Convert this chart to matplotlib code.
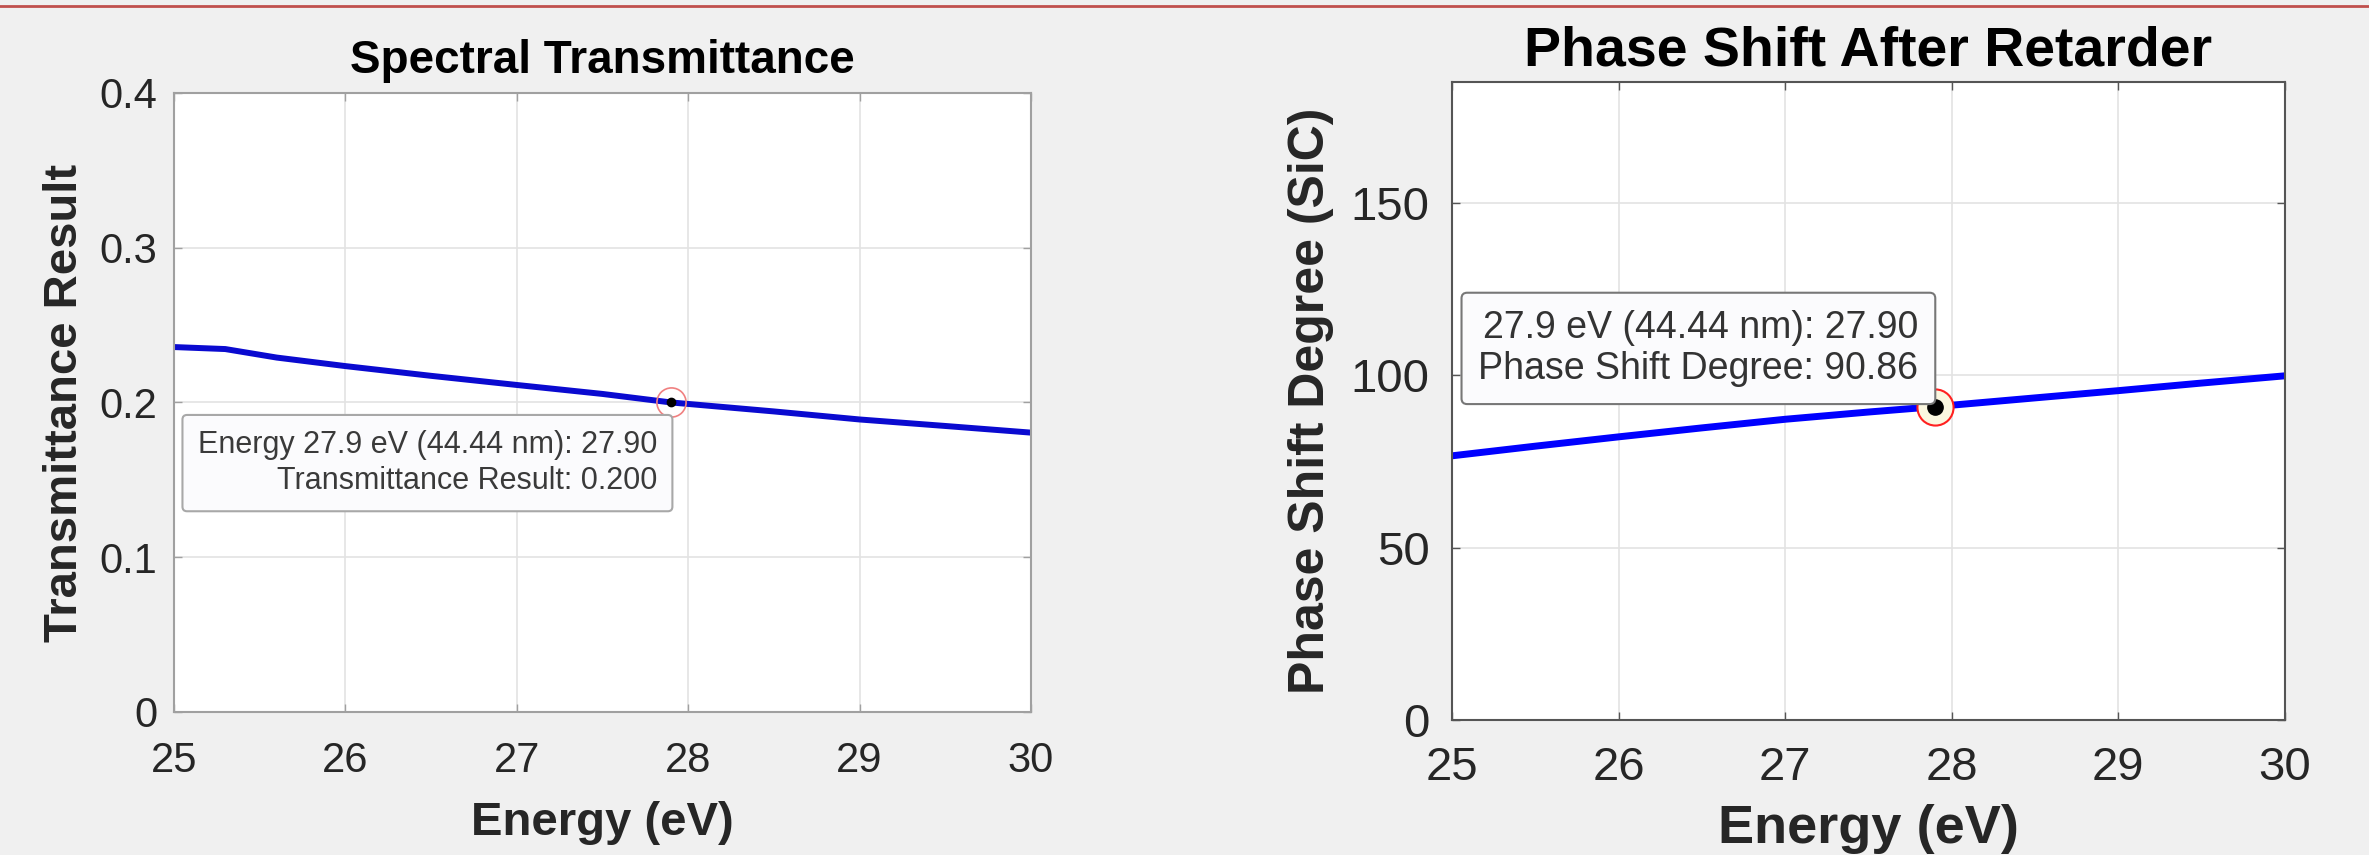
import matplotlib.pyplot as plt
from matplotlib.lines import Line2D

plt.rcParams['font.family'] = ['Liberation Sans', 'DejaVu Sans']

# left panel data
trans_energy = [25, 25.3, 25.6, 26, 26.5, 27, 27.5, 27.9, 28.5, 29, 29.5, 30]
trans_result = [0.2358, 0.2345, 0.229, 0.2235, 0.2172, 0.2113, 0.2055, 0.200, 0.1942, 0.189, 0.1848, 0.1805]
trans_tip = (27.9, 0.200)
trans_tip_text = 'Energy 27.9 eV (44.44 nm): 27.90\nTransmittance Result: 0.200'

# right panel data
phase_energy = [25, 25.5, 26, 26.5, 27, 27.5, 27.9, 28.5, 29, 29.5, 30]
phase_deg = [76.6, 79.4, 82.1, 84.7, 87.2, 89.3, 90.86, 93.4, 95.5, 97.7, 99.8]
phase_tip = (27.9, 90.86)
phase_tip_text = '27.9 eV (44.44 nm): 27.90\nPhase Shift Degree: 90.86'

energy_ticks = [25, 26, 27, 28, 29, 30]

fig = plt.figure(figsize=(23.69, 8.55), dpi=100, facecolor='#f0f0f0')
fig.add_artist(Line2D([0, 1], [0.993, 0.993], transform=fig.transFigure, color='#c0504d', lw=2))

ax1 = fig.add_axes([0.0734, 0.1673, 0.3618, 0.724])
ax2 = fig.add_axes([0.6129, 0.1579, 0.3516, 0.7462])


def style(ax, tick_size, spine_col):
    ax.set_facecolor('white')
    ax.grid(True, color='#e3e3e3', lw=1.2)
    ax.set_axisbelow(True)
    for s in ax.spines.values():
        s.set_color(spine_col)
        s.set_linewidth(1.5)
    ax.tick_params(direction='in', top=True, right=True, length=6, width=1,
                   color=spine_col, labelsize=tick_size, labelcolor='#262626')


# spectral transmittance
ax1.plot(trans_energy, trans_result, color='#0a0ad0', lw=4.3, solid_capstyle='butt')
ax1.set_xlim(25, 30)
ax1.set_ylim(0, 0.4)
ax1.set_xticks(energy_ticks)
ax1.set_yticks([0, 0.1, 0.2, 0.3, 0.4])
ax1.set_yticklabels(['0', '0.1', '0.2', '0.3', '0.4'])
style(ax1, 30, '#a0a0a0')
ax1.tick_params(axis='x', pad=21)
ax1.tick_params(axis='y', pad=12)
ax1.set_title('Spectral Transmittance', fontsize=33, fontweight='bold', pad=14)
ax1.set_xlabel('Energy (eV)', fontsize=34, fontweight='bold', color='#262626', labelpad=14)
ax1.set_ylabel('Transmittance Result', fontsize=34, fontweight='bold', color='#262626', labelpad=9)
ax1.plot(*trans_tip, 'o', ms=21, mfc='none', mec='#f08080', mew=1.2)
ax1.plot(*trans_tip, 'o', ms=6, color='black')
ax1.annotate(trans_tip_text, xy=trans_tip, xytext=(-10, -20), textcoords='offset points',
             ha='right', va='top', fontsize=22, color='#3a3a3a', multialignment='right',
             linespacing=1.25,
             bbox=dict(boxstyle='round,pad=0.5,rounding_size=0.15', fc='#fbfbfd', ec='#a8a8a8', lw=1.5))

# phase shift
ax2.plot(phase_energy, phase_deg, color='#0000ff', lw=5, solid_capstyle='butt')
ax2.set_xlim(25, 30)
ax2.set_ylim(0, 185)
ax2.set_xticks(energy_ticks)
ax2.set_yticks([0, 50, 100, 150])
style(ax2, 34, '#555555')
ax2.tick_params(axis='x', pad=19)
ax2.tick_params(axis='y', pad=16)
ax2.set_title('Phase Shift After Retarder', fontsize=40, fontweight='bold', pad=12)
ax2.set_xlabel('Energy (eV)', fontsize=39, fontweight='bold', color='#262626', labelpad=10)
ax2.set_ylabel('Phase Shift Degree (SiC)', fontsize=36, fontweight='bold', color='#262626', labelpad=12)
ax2.plot(*phase_tip, 'o', ms=26, mfc='#fbf7e0', mec='#ff2020', mew=1.5)
ax2.plot(*phase_tip, 'o', ms=11, color='black')
ax2.annotate(phase_tip_text, xy=phase_tip, xytext=(-12, 14), textcoords='offset points',
             ha='right', va='bottom', fontsize=27, color='#333333', multialignment='right',
             linespacing=1.2,
             bbox=dict(boxstyle='round,pad=0.45,rounding_size=0.15', fc='#fbfbfd', ec='#777777', lw=1.5))

fig.savefig('out.png', dpi=100, facecolor=fig.get_facecolor())
